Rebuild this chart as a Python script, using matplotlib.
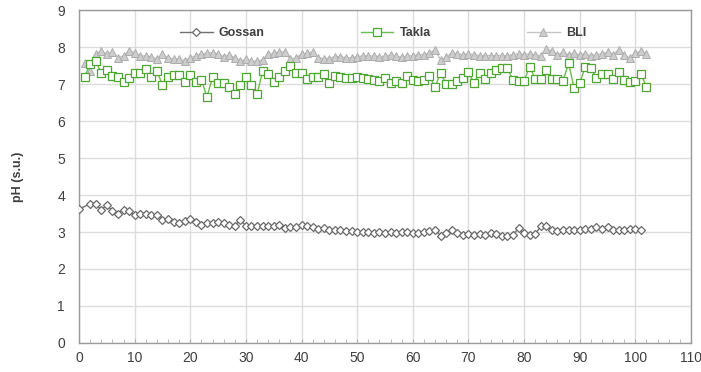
import matplotlib
matplotlib.use("Agg")
import matplotlib.pyplot as plt
from matplotlib.ticker import MultipleLocator

gossan_x = [0] + list(range(2, 102))
gossan_y = [3.62, 3.76, 3.77, 3.60, 3.73, 3.56, 3.50, 3.60, 3.56, 3.46,
            3.49, 3.49, 3.46, 3.47, 3.32, 3.35, 3.26, 3.23, 3.31, 3.34,
            3.28, 3.19, 3.24, 3.25, 3.28, 3.23, 3.19, 3.17, 3.32, 3.17,
            3.17, 3.17, 3.17, 3.17, 3.17, 3.19, 3.10, 3.13, 3.13, 3.19,
            3.15, 3.13, 3.08, 3.10, 3.06, 3.05, 3.06, 3.04, 3.04, 3.01,
            3.01, 3.01, 2.96,
            2.99, 2.97, 2.99, 2.97, 2.99, 3.01, 2.96, 2.98, 3.01, 3.02,
            3.06, 2.90, 2.96, 3.06, 2.97, 2.93, 2.95, 2.93, 2.95, 2.93,
            2.96, 2.95, 2.90, 2.90, 2.93, 3.10, 2.96, 2.93, 2.95, 3.15,
            3.17, 3.05, 3.04, 3.06, 3.05, 3.05, 3.06, 3.08, 3.08, 3.13,
            3.08, 3.13, 3.05, 3.05, 3.06, 3.08, 3.08, 3.06]

takla_x = list(range(1, 103))
takla_y = [7.20, 7.53, 7.62, 7.30, 7.37, 7.22, 7.19, 7.06, 7.16, 7.31,
           7.31, 7.41, 7.19, 7.36, 6.97, 7.19, 7.25, 7.25, 7.06, 7.25,
           7.06, 7.11, 6.65, 7.18, 7.02, 7.02, 6.93, 6.72, 6.97, 7.20,
           6.97, 6.72, 7.34, 7.28, 7.06, 7.20, 7.34, 7.48, 7.30, 7.31,
           7.14, 7.19, 7.19, 7.28, 7.02, 7.22, 7.19, 7.16, 7.16, 7.19,
           7.16, 7.14, 7.11,
           7.09, 7.17, 7.02, 7.09, 7.02, 7.23, 7.11, 7.09, 7.11, 7.21,
           6.93, 7.30, 7.00, 7.00, 7.09, 7.17, 7.33, 7.02, 7.30, 7.14,
           7.30, 7.37, 7.42, 7.42, 7.11, 7.09, 7.09, 7.47, 7.14, 7.14,
           7.37, 7.14, 7.14, 7.09, 7.56, 6.89, 7.02, 7.47, 7.42, 7.17,
           7.26, 7.26, 7.14, 7.33, 7.11, 7.05, 7.09, 7.26, 6.93]

bli_x = list(range(1, 103))
bli_y = [7.57, 7.34, 7.81, 7.90, 7.81, 7.87, 7.71, 7.76, 7.90, 7.85,
         7.76, 7.76, 7.74, 7.67, 7.81, 7.71, 7.67, 7.69, 7.62, 7.71,
         7.76, 7.81, 7.83, 7.85, 7.81, 7.74, 7.78, 7.71, 7.62, 7.67,
         7.62, 7.62, 7.65, 7.81, 7.83, 7.87, 7.87, 7.67, 7.71, 7.81,
         7.83, 7.87, 7.71, 7.69, 7.69, 7.74, 7.74, 7.71, 7.71, 7.74,
         7.76, 7.76, 7.76, 7.74,
         7.75, 7.79, 7.75, 7.73, 7.75, 7.77, 7.79, 7.79, 7.84, 7.92,
         7.64, 7.73, 7.84, 7.82, 7.79, 7.82, 7.79, 7.77, 7.77, 7.77,
         7.77, 7.77, 7.77, 7.79, 7.82, 7.79, 7.82, 7.79, 7.75, 7.95,
         7.89, 7.79, 7.86, 7.79, 7.84, 7.79, 7.82, 7.77, 7.79, 7.82,
         7.86, 7.79, 7.93, 7.79, 7.70, 7.84, 7.89, 7.82]

x_ticks = list(range(0, 111, 10))
y_ticks = list(range(0, 10))

fig = plt.figure(figsize=(7.01, 3.72), dpi=100)
ax = fig.add_axes([0.1127, 0.078, 0.873, 0.895])

ax.plot(bli_x[:len(bli_y)], bli_y, color='#c4c4c4', lw=1.0, marker='^', ms=5.5,
        mfc='#cdcdcd', mec='#adadad', mew=0.7, label='BLI', zorder=3)
ax.plot(takla_x[:len(takla_y)], takla_y, color='#6cbc55', lw=1.0, marker='s', ms=5.2,
        mfc='white', mec='#4ea632', mew=0.9, label='Takla', zorder=4)
ax.plot(gossan_x[:len(gossan_y)], gossan_y, color='#707070', lw=1.0, marker='D', ms=4.3,
        mfc='white', mec='#6a6a6a', mew=0.9, label='Gossan', zorder=5)

ax.set_xlim(0, 110)
ax.set_ylim(0, 9)
ax.set_xticks(x_ticks)
ax.set_yticks(y_ticks)
ax.xaxis.set_minor_locator(MultipleLocator(2))
ax.grid(True, which='major', color='#dcdcdc', lw=1.0, zorder=0)
ax.set_axisbelow(True)
for s in ax.spines.values():
    s.set_color('#9a9a9a')
    s.set_linewidth(1.0)
ax.tick_params(axis='x', which='minor', direction='in', length=3, color='#b0b0b0')
ax.tick_params(axis='x', which='major', direction='in', length=3, color='#b0b0b0', pad=6)
ax.tick_params(axis='y', which='major', length=0, pad=10)
for lab in ax.get_xticklabels() + ax.get_yticklabels():
    lab.set_fontfamily('Liberation Sans')
    lab.set_fontsize(10)
    lab.set_color('#404040')

ax.set_ylabel('pH (s.u.)', fontsize=9, fontweight='bold', color='#404040',
              family='Liberation Sans', labelpad=24)

h, l = ax.get_legend_handles_labels()
order = [2, 1, 0]
leg = ax.legend([h[i] for i in order], [l[i] for i in order], ncol=3,
                loc='center', bbox_to_anchor=(0.497, 0.93), frameon=False,
                handlelength=2.6, columnspacing=7.7, handletextpad=0.5,
                prop={'family': 'Liberation Sans', 'weight': 'bold', 'size': 9})
for t in leg.get_texts():
    t.set_color('#404040')

fig.savefig('out.png', dpi=100)
